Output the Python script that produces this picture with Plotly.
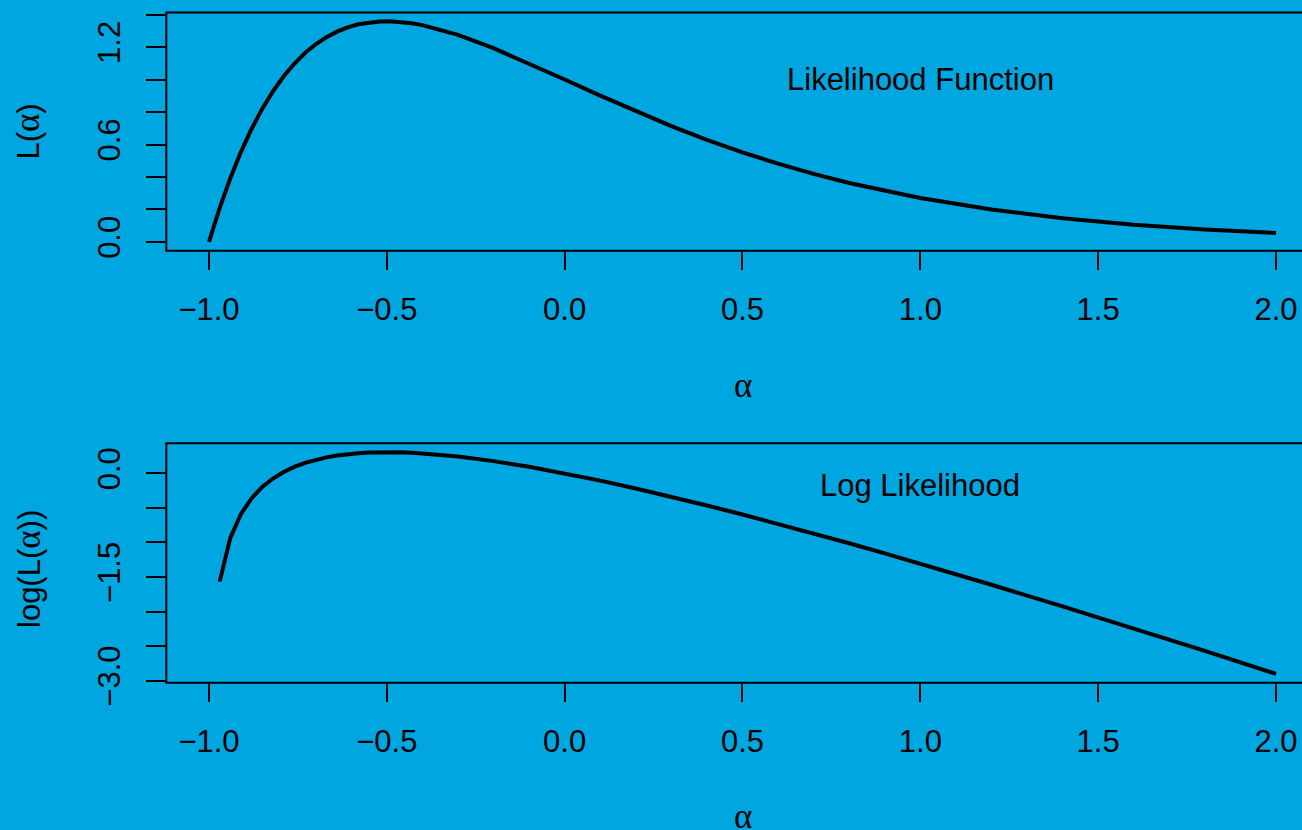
import plotly.graph_objects as go

# ---- data ----
alpha = [-1.0, -0.97, -0.94, -0.91, -0.88, -0.85, -0.82, -0.79, -0.76, -0.73,
         -0.70, -0.67, -0.64, -0.61, -0.58, -0.55, -0.52, -0.49, -0.46, -0.43,
         -0.40, -0.30, -0.20, -0.10, 0.0, 0.1, 0.2, 0.3, 0.4, 0.5,
         0.6, 0.7, 0.8, 0.9, 1.0, 1.2, 1.4, 1.6, 1.8, 2.0]
likelihood = [0.0, 0.209, 0.393, 0.555, 0.697, 0.821, 0.928, 1.020, 1.097, 1.163,
              1.217, 1.260, 1.295, 1.321, 1.340, 1.352, 1.358, 1.359, 1.355, 1.347,
              1.335, 1.275, 1.193, 1.099, 1.000, 0.901, 0.804, 0.713, 0.629, 0.552,
              0.482, 0.419, 0.363, 0.314, 0.271, 0.200, 0.146, 0.106, 0.077, 0.055]
loglik = [None, -1.567, -0.933, -0.588, -0.360, -0.197, -0.075, 0.019, 0.093, 0.151,
          0.196, 0.231, 0.258, 0.278, 0.292, 0.301, 0.306, 0.307, 0.304, 0.298,
          0.289, 0.243, 0.177, 0.095, 0.000, -0.105, -0.218, -0.338, -0.464, -0.595,
          -0.730, -0.869, -1.012, -1.158, -1.307, -1.612, -1.925, -2.244, -2.570, -2.901]

x_tickvals = [-1.0, -0.5, 0.0, 0.5, 1.0, 1.5, 2.0]
x_ticktext = ["\u22121.0", "\u22120.5", "0.0", "0.5", "1.0", "1.5", "2.0"]
y1_tickvals = [0.0, 0.2, 0.4, 0.6, 0.8, 1.0, 1.2, 1.4]
y1_ticktext = ["0.0", "", "", "0.6", "", "", "1.2", ""]
y2_tickvals = [0.0, -0.5, -1.0, -1.5, -2.0, -2.5, -3.0]
y2_ticktext = ["0.0", "", "", "\u22121.5", "", "", "\u22123.0"]

BG = "#00A6DF"
W, H = 1302, 830
FONT = "Liberation Sans, Arial, Helvetica, sans-serif"
SERIF = "Liberation Serif, Times New Roman, serif"
FS = 31

def px(x):
    return x / W

def py(y):
    return 1 - y / H

left = 166.3
top1, bot1 = 12.4, 250.8
top2, bot2 = 443.3, 682.7

fig = go.Figure()
fig.add_trace(go.Scatter(x=alpha, y=likelihood, mode="lines",
                         line=dict(color="black", width=4), xaxis="x", yaxis="y",
                         showlegend=False, hoverinfo="skip"))
fig.add_trace(go.Scatter(x=alpha, y=loglik, mode="lines",
                         line=dict(color="black", width=4), xaxis="x2", yaxis="y2",
                         showlegend=False, hoverinfo="skip", connectgaps=False))

xr = [-1.12, -1.12 + (W - left) / 355.67]
common_x = dict(range=xr, domain=[px(left), 1], showgrid=False, zeroline=False,
                showline=False, ticks="outside", ticklen=18, tickwidth=2,
                tickcolor="black", tickvals=x_tickvals, ticktext=x_ticktext,
                tickfont=dict(family=FONT, size=FS, color="black"),
                ticklabelstandoff=13, automargin=False)
common_y = dict(showgrid=False, zeroline=False, showline=False, ticks="outside",
                ticklen=19, tickwidth=2, tickcolor="black", tickangle=-90,
                tickfont=dict(family=FONT, size=FS, color="black"),
                ticklabelstandoff=14, automargin=False)

fig.update_layout(
    width=W, height=H, autosize=False,
    paper_bgcolor=BG, plot_bgcolor=BG,
    margin=dict(l=0, r=0, t=0, b=0, pad=0),
    xaxis=dict(**common_x, anchor="y"),
    yaxis=dict(**common_y, anchor="x", domain=[py(bot1), py(top1)],
               range=[-0.0544, 1.4134], tickvals=y1_tickvals, ticktext=y1_ticktext),
    xaxis2=dict(**common_x, anchor="y2"),
    yaxis2=dict(**common_y, anchor="x2", domain=[py(bot2), py(top2)],
                range=[-3.0293, 0.4350], tickvals=y2_tickvals, ticktext=y2_ticktext),
    showlegend=False,
)

# plot boxes (right edge falls outside the picture)
for (t, b) in [(top1, bot1), (top2, bot2)]:
    fig.add_shape(type="rect", xref="paper", yref="paper",
                  x0=px(left), x1=1.05, y0=py(b), y1=py(t),
                  line=dict(color="black", width=2), fillcolor="rgba(0,0,0,0)",
                  layer="above")

ann_font = dict(family=FONT, size=FS, color="black")
alpha_span = '<span style="font-family:Liberation Serif;font-size:35px">\u03b1</span>'
annotations = [
    dict(text="Likelihood Function", x=1.0, y=1.0, xref="x", yref="y",
         showarrow=False, font=ann_font, xanchor="center", yanchor="middle"),
    dict(text="Log Likelihood", x=1.0, y=-0.17, xref="x2", yref="y2",
         showarrow=False, font=ann_font, xanchor="center", yanchor="middle"),
    dict(text=alpha_span, x=px(742.5), y=py(386), xref="paper", yref="paper",
         showarrow=False, font=dict(family=SERIF, size=35, color="black"),
         xanchor="center", yanchor="middle"),
    dict(text=alpha_span, x=px(742.5), y=py(816), xref="paper", yref="paper",
         showarrow=False, font=dict(family=SERIF, size=35, color="black"),
         xanchor="center", yanchor="middle"),
    dict(text="L(" + alpha_span + ")", x=px(28), y=py((top1 + bot1) / 2),
         xref="paper", yref="paper", showarrow=False, font=ann_font,
         textangle=-90, xanchor="center", yanchor="middle"),
    dict(text="log(L(" + alpha_span + "))", x=px(28), y=py((top2 + bot2) / 2 + 6),
         xref="paper", yref="paper", showarrow=False, font=ann_font,
         textangle=-90, xanchor="center", yanchor="middle"),
]
fig.update_layout(annotations=annotations)

fig.write_html(
    "out.html",
    config={"displayModeBar": False},
    post_script="document.documentElement.style.margin='0';"
                "document.body.style.margin='0';"
                "document.body.style.overflow='hidden';",
)
